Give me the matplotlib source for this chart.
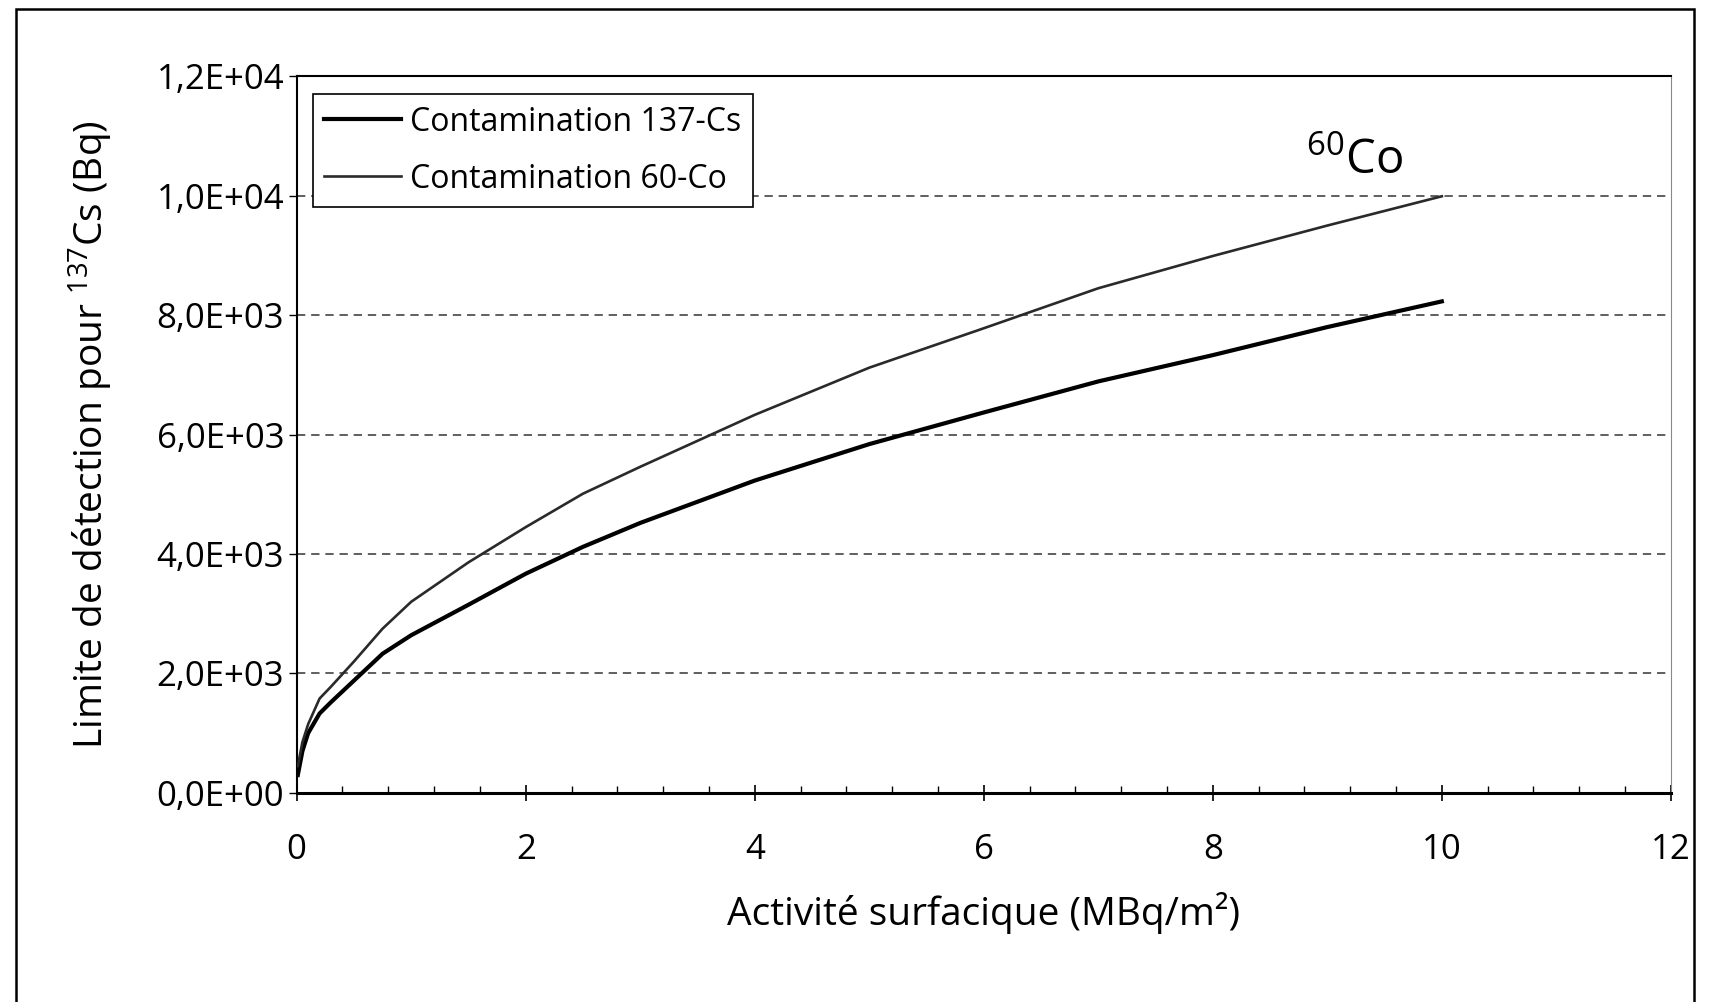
#!/usr/bin/env python3
import matplotlib
matplotlib.use("Agg")
import matplotlib.pyplot as plt
from matplotlib.patches import Rectangle
from matplotlib.ticker import MultipleLocator, FuncFormatter

plt.rcParams['font.family'] = ['Open Sans', 'DejaVu Sans']
plt.rcParams['mathtext.fontset'] = 'custom'
plt.rcParams['mathtext.rm'] = 'Open Sans'
plt.rcParams['mathtext.it'] = 'Open Sans:italic'
plt.rcParams['mathtext.bf'] = 'Open Sans:bold'
myFontSize = 25

# surface activity (MBq/m2) and detection limits (Bq)
activite = [0.01, 0.05, 0.1, 0.2, 0.3, 0.5, 0.75, 1, 1.5, 2, 2.5, 3, 4, 5, 6, 7, 8, 9, 10]
lim_cs137 = [300, 700, 1000, 1330, 1520, 1880, 2330, 2640, 3150, 3670, 4120, 4520,
             5230, 5840, 6370, 6890, 7330, 7800, 8230]
lim_co60 = [450, 850, 1150, 1580, 1780, 2200, 2750, 3200, 3860, 4450, 5010, 5460,
            6330, 7120, 7780, 8450, 8990, 9500, 9990]
labels = ["Contamination 137-Cs", "Contamination 60-Co"]
y_ticks = [0, 2000, 4000, 6000, 8000, 10000, 12000]

fig = plt.figure()
fig.set_size_inches(17.1, 10.02)
ax = fig.add_axes([0.1735, 0.2087, 0.8036, 0.7152])

ax.plot(activite, lim_cs137, color="black", lw=3.0, label=labels[0], zorder=3)
ax.plot(activite, lim_co60, color="#2a2a2a", lw=1.9, label=labels[1], zorder=3)

ax.set_xlim(0, 12)
ax.set_ylim(0, 12000)
ax.xaxis.set_major_locator(MultipleLocator(2))
ax.xaxis.set_minor_locator(MultipleLocator(0.4))
ax.set_yticks(y_ticks)
ax.yaxis.set_major_formatter(FuncFormatter(
    lambda v, p: ("%.1E" % v).replace(".", ",")))
ax.xaxis.set_major_formatter(FuncFormatter(lambda v, p: "%d" % v))

for yv in y_ticks[1:-1]:
    ax.axhline(yv, color="#444444", lw=1.2, ls=(0, (5, 3.5)), zorder=1)

ax.tick_params(axis="x", which="major", direction="inout", length=12, width=1.2,
               pad=23, labelsize=myFontSize)
ax.tick_params(axis="x", which="minor", direction="in", length=5, width=1.0)
ax.tick_params(axis="y", which="major", direction="out", length=6, width=1.0,
               pad=3, labelsize=myFontSize)

ax.spines["left"].set_linewidth(1.5)
ax.spines["bottom"].set_linewidth(2.2)
ax.spines["top"].set_linewidth(1.5)
ax.spines["right"].set_linewidth(0.8)
ax.spines["right"].set_color("#888888")

ax.set_xlabel("Activité surfacique (MBq/m²)", fontsize=28, labelpad=18)
ax.set_ylabel(r"Limite de détection pour $^{137}$Cs (Bq)", fontsize=28,
              labelpad=30)

leg = ax.legend(loc="upper left", bbox_to_anchor=(0.0, 0.997), fontsize=23,
                fancybox=False, framealpha=1, edgecolor="black",
                handlelength=2.4, handletextpad=0.3, borderpad=0.35,
                labelspacing=0.75)
leg.get_frame().set_linewidth(1.2)

ax.text(9.24, 10580, r"$^{60}$Co", fontsize=34, ha="center", va="center")

# scanned page frame
fig.patches.append(Rectangle((16 / 1710, -0.05), 1678 / 1710, 1.05 - 9 / 1002,
                             transform=fig.transFigure, fill=False,
                             edgecolor="black", lw=1.8))

fig.savefig("out.png", dpi=100)
